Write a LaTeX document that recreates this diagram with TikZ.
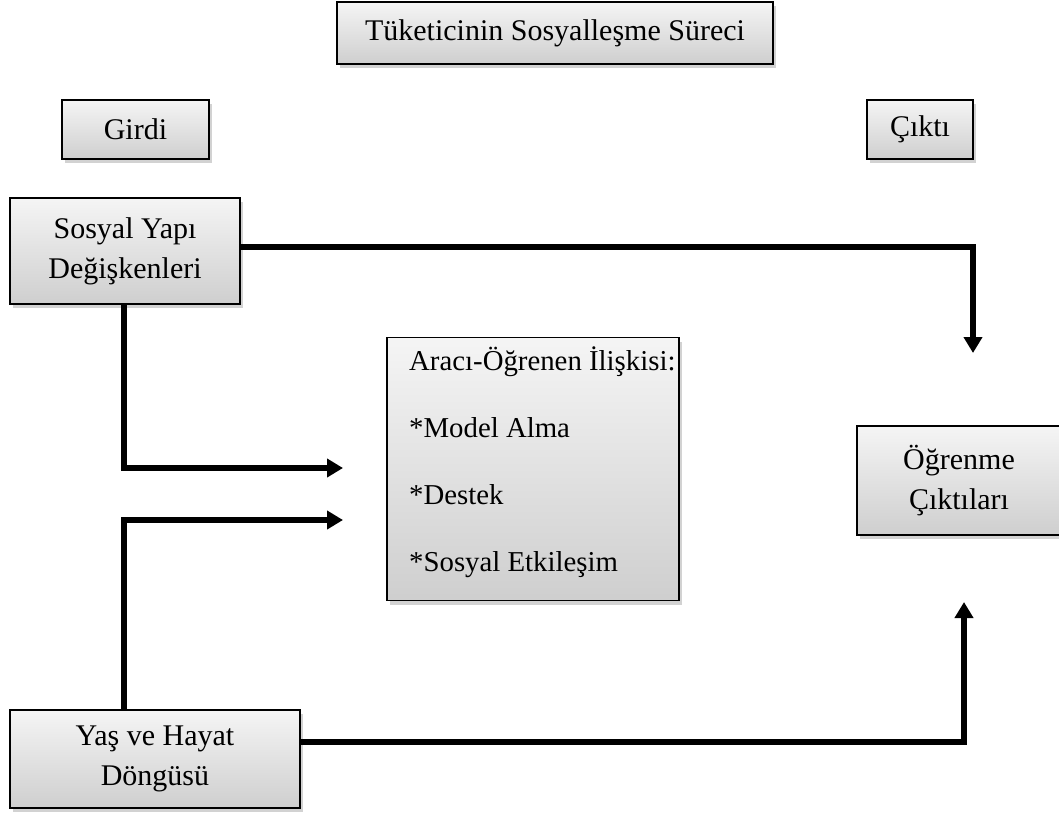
\documentclass[tikz,border=0pt]{standalone}
\usepackage{fontspec}
\setmainfont{Liberation Serif}
\usetikzlibrary{arrows.meta,shadows,calc}
\begin{document}
\begin{tikzpicture}[x=1pt,y=-1pt,
  box/.style={draw=black,line width=1.6pt,top color=gray!8,bottom color=gray!38,
    inner sep=0pt,align=center,font=\fontsize{30}{40}\selectfont,
    drop shadow={shadow xshift=3pt,shadow yshift=-4pt,fill=gray!70,opacity=0.5}},
  conn/.style={line width=5.5pt,line join=miter,
    -{Triangle[length=16pt,width=18pt]}}]
\useasboundingbox (0,0) rectangle (1059,814);

% boxes
\node[box,minimum width=436pt,minimum height=62pt] (title) at (555,33) {Tüketicinin Sosyalleşme Süreci};
\node[box,minimum width=147pt,minimum height=59pt] (girdi) at (135.5,129.5) {Girdi};
\node[box,minimum width=106pt,minimum height=59pt] (cikti) at (920,129.5) {Çıktı};
\node[box,minimum width=230pt,minimum height=106pt] (sosyal) at (125,251) {Sosyal Yapı\\Değişkenleri};
\node[box,minimum width=292pt,minimum height=263pt] (arac) at (533,469) {};
\node[anchor=west,inner sep=0pt,align=left,font=\fontsize{28.8}{67}\selectfont] (aractext) at (409,462)
  {Aracı-Öğrenen İlişkisi:\\*Model Alma\\*Destek\\*Sosyal Etkileşim};
\node[box,minimum width=204pt,minimum height=109pt] (ogren) at (959,480.5) {Öğrenme\\Çıktıları};
\node[box,minimum width=290pt,minimum height=98pt] (yas) at (155,759) {Yaş ve Hayat\\Döngüsü};

% free arrow ends
\coordinate (e1) at (973,353);
\coordinate (e2) at (343,468);
\coordinate (e3) at (343,520);
\coordinate (e4) at (964,602);

% connectors
\draw[conn] ([yshift=4pt]sosyal.east) -| (e1);
\draw[conn] ([xshift=-1pt]sosyal.south) |- (e2);
\draw[conn] ([xshift=-31pt]yas.north) |- (e3);
\draw[conn] ([yshift=17pt]yas.east) -| (e4);
\end{tikzpicture}
\end{document}
